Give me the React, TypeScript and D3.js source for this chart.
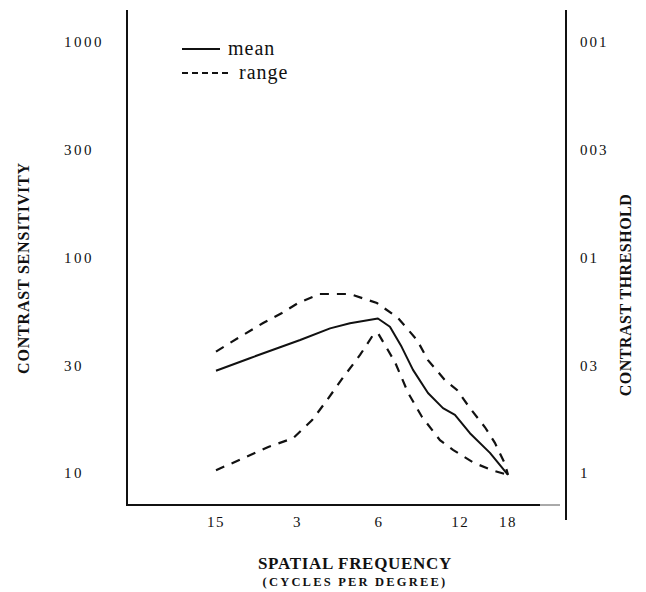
import React from "react";
import * as d3 from "d3";

// ---- data ----
const xTickValues = [1.5, 3, 6, 12, 18];
const xTickLabels = ["15", "3", "6", "12", "18"];

const yTickValues = [10, 31.62, 100, 316.2, 1000];
const yLeftLabels = ["10", "30", "100", "300", "1000"];
const yRightLabels = ["1", "03", "01", "003", "001"];

const meanFreq = [1.5, 2.0, 3.07, 3.96, 4.69, 5.95, 6.59, 7.28, 8.02, 9.11, 10.35, 11.46, 13.02, 15.44, 18];
const meanValue = [29.8, 34.1, 41.4, 46.9, 49.5, 52.1, 47.7, 38.5, 30.1, 23.5, 20.0, 18.6, 15.3, 12.4, 9.8];

const upperFreq = [1.5, 1.81, 2.24, 2.63, 3.02, 3.63, 4.69, 5.9, 7.06, 8.3, 9.11, 10.52, 11.66, 13.02, 14.8, 16.1, 17.5, 18];
const upperValue = [36.6, 42.3, 49.7, 55.3, 61.5, 67.7, 67.7, 61.5, 52.4, 41.4, 33.4, 27.0, 24.3, 20.0, 16.3, 13.8, 11.1, 9.8];

const lowerFreq = [1.5, 1.89, 2.34, 2.89, 3.4, 3.86, 4.41, 5.11, 5.71, 5.95, 6.88, 7.7, 8.66, 10.09, 11.27, 13.37, 15.7, 18];
const lowerValue = [10.3, 11.7, 13.2, 14.5, 17.6, 21.8, 27.6, 35.3, 43.7, 44.6, 32.7, 23.5, 18.2, 14.2, 12.8, 11.2, 10.3, 9.8];

const legendLabels = ["mean", "range"];

const W = 646;
const H = 592;

export default function App() {
  const x = d3.scaleLog().domain([1.5, 18]).range([216, 508]);
  const y = d3.scaleLog().domain([10, 1000]).range([473, 42]);

  const line = d3
    .line<[number, number]>()
    .x((d) => x(d[0]))
    .y((d) => y(d[1]));

  const meanPts = meanFreq.map((f, i) => [f, meanValue[i]] as [number, number]);
  const upperPts = upperFreq.map((f, i) => [f, upperValue[i]] as [number, number]);
  const lowerPts = lowerFreq.map((f, i) => [f, lowerValue[i]] as [number, number]);

  const axisLeftX = 127;
  const axisRightX = 566;
  const axisBottomY = 505;

  const tickFont = "'Liberation Serif', serif";
  const titleFont = "'Liberation Serif', serif";

  return (
    <svg
      width={W}
      height={H}
      style={{ position: "absolute", left: 0, top: 0, background: "#fff" }}
    >
      <rect x={0} y={0} width={W} height={H} fill="#fff" />

      {/* axes lines */}
      <line x1={axisLeftX} y1={10} x2={axisLeftX} y2={axisBottomY + 1} stroke="#111" strokeWidth={2} />
      <line x1={axisLeftX - 1} y1={axisBottomY} x2={540} y2={axisBottomY} stroke="#111" strokeWidth={2} />
      <line x1={540} y1={axisBottomY} x2={560} y2={axisBottomY} stroke="#555" strokeWidth={1} />
      <line x1={axisRightX} y1={10} x2={axisRightX} y2={520} stroke="#111" strokeWidth={2} />

      {/* left tick labels */}
      {yTickValues.map((v, i) => (
        <text
          key={"l" + i}
          x={64}
          y={y(v)}
          dy="0.35em"
          fontFamily={tickFont}
          fontSize={15}
          letterSpacing={2.5}
          fill="#111"
        >
          {yLeftLabels[i]}
        </text>
      ))}

      {/* right tick labels */}
      {yTickValues.map((v, i) => (
        <text
          key={"r" + i}
          x={580}
          y={y(v)}
          dy="0.35em"
          fontFamily={tickFont}
          fontSize={15}
          letterSpacing={2}
          fill="#111"
        >
          {yRightLabels[i]}
        </text>
      ))}

      {/* x tick labels */}
      {xTickValues.map((v, i) => (
        <text
          key={"x" + i}
          x={x(v)}
          y={527}
          textAnchor="middle"
          fontFamily={tickFont}
          fontSize={15}
          letterSpacing={1.5}
          fill="#111"
        >
          {xTickLabels[i]}
        </text>
      ))}

      {/* series */}
      <path d={line(meanPts) || ""} fill="none" stroke="#111" strokeWidth={2} strokeLinejoin="round" />
      <path d={line(upperPts) || ""} fill="none" stroke="#111" strokeWidth={2.2} strokeDasharray="9,8" />
      <path d={line(lowerPts) || ""} fill="none" stroke="#111" strokeWidth={2.2} strokeDasharray="9,8" />

      {/* legend */}
      <line x1={182} y1={49} x2={220} y2={49} stroke="#111" strokeWidth={2} />
      <text x={228} y={55} fontFamily={titleFont} fontSize={20} letterSpacing={1} fill="#111">
        {legendLabels[0]}
      </text>
      <line x1={182} y1={73} x2={229} y2={73} stroke="#111" strokeWidth={2} strokeDasharray="6,4" />
      <text x={239} y={79} fontFamily={titleFont} fontSize={20} letterSpacing={1} fill="#111">
        {legendLabels[1]}
      </text>

      {/* axis titles */}
      <text
        transform={`translate(29, 268) rotate(-90)`}
        textAnchor="middle"
        fontFamily={titleFont}
        fontWeight="bold"
        fontSize={16}
        letterSpacing={0.8}
        fill="#111"
      >
        CONTRAST SENSITIVITY
      </text>
      <text
        transform={`translate(631, 295) rotate(-90)`}
        textAnchor="middle"
        fontFamily={titleFont}
        fontWeight="bold"
        fontSize={16}
        letterSpacing={0.5}
        fill="#111"
      >
        CONTRAST THRESHOLD
      </text>
      <text
        x={355}
        y={569}
        textAnchor="middle"
        fontFamily={titleFont}
        fontWeight="bold"
        fontSize={17}
        letterSpacing={0.7}
        fill="#111"
      >
        SPATIAL FREQUENCY
      </text>
      <text
        x={355}
        y={586}
        textAnchor="middle"
        fontFamily={titleFont}
        fontWeight="bold"
        fontSize={12.5}
        letterSpacing={2.2}
        fill="#111"
      >
        (CYCLES PER DEGREE)
      </text>
    </svg>
  );
}
